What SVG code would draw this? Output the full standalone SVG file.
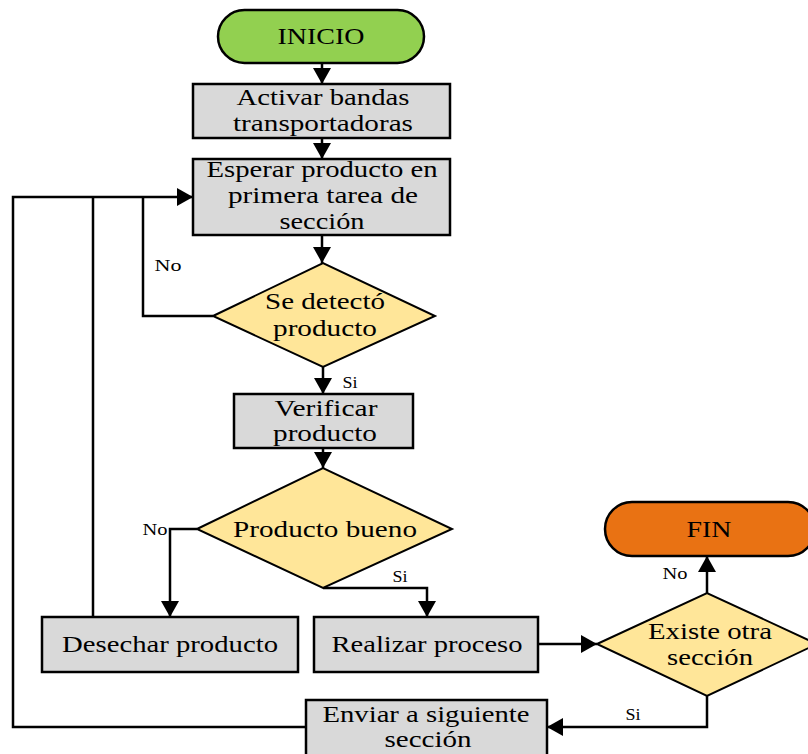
<svg xmlns="http://www.w3.org/2000/svg" width="808" height="754" viewBox="0 0 808 754">
<style>
.box{fill:#D9D9D9;stroke:#000;stroke-width:2.5}
.dec{fill:#FFE699;stroke:#000;stroke-width:2}
.t{font-family:"Liberation Serif","Times New Roman",serif;font-size:23px;fill:#000;text-anchor:middle}
.s{font-family:"Liberation Serif","Times New Roman",serif;font-size:16px;fill:#000;text-anchor:middle}
.c{fill:none;stroke:#000;stroke-width:2.5}
</style>
<defs>
<marker id="ah" markerUnits="userSpaceOnUse" markerWidth="18" markerHeight="20" refX="16" refY="9" orient="auto">
<path d="M0,0 L16,9 L0,18 z" fill="#000"/>
</marker>
</defs>
<g id="connectors">
<path class="c" d="M322,63 V84" marker-end="url(#ah)"/>
<path class="c" d="M322,138 V159" marker-end="url(#ah)"/>
<path class="c" d="M322,235 V263" marker-end="url(#ah)"/>
<path class="c" d="M213,316 H143 V197"/>
<path class="c" d="M323,367 V394" marker-end="url(#ah)"/>
<path class="c" d="M323,448 V468" marker-end="url(#ah)"/>
<path class="c" d="M197,529 H170 V617" marker-end="url(#ah)"/>
<path class="c" d="M323,588 H427 V617" marker-end="url(#ah)"/>
<path class="c" d="M93,617 V197"/>
<path class="c" d="M538,644 H597" marker-end="url(#ah)"/>
<path class="c" d="M707,593 V556" marker-end="url(#ah)"/>
<path class="c" d="M707,696 V727 H547" marker-end="url(#ah)"/>
<path class="c" d="M306,727 H13 V197 H193" marker-end="url(#ah)"/>
<text class="s" x="168" y="271" textLength="27" lengthAdjust="spacingAndGlyphs">No</text>
<text class="s" x="350" y="388" textLength="15" lengthAdjust="spacingAndGlyphs">Si</text>
<text class="s" x="155" y="535" textLength="25" lengthAdjust="spacingAndGlyphs">No</text>
<text class="s" x="400" y="582" textLength="15" lengthAdjust="spacingAndGlyphs">Si</text>
<text class="s" x="675" y="579" textLength="25" lengthAdjust="spacingAndGlyphs">No</text>
<text class="s" x="633" y="720" textLength="15" lengthAdjust="spacingAndGlyphs">Si</text>
</g>
<g id="inicio">
<rect x="218" y="10" width="206" height="53" rx="26.5" fill="#92D050" stroke="#000" stroke-width="2.5"/>
<text class="t" x="321" y="44" textLength="87" lengthAdjust="spacingAndGlyphs">INICIO</text>
</g>
<g id="activar">
<rect class="box" x="193" y="84" width="257" height="54"/>
<text class="t" x="323" y="105" textLength="173" lengthAdjust="spacingAndGlyphs">Activar bandas</text>
<text class="t" x="323" y="131" textLength="180" lengthAdjust="spacingAndGlyphs">transportadoras</text>
</g>
<g id="esperar">
<rect class="box" x="193" y="159" width="257" height="76"/>
<text class="t" x="322" y="177" textLength="231" lengthAdjust="spacingAndGlyphs">Esperar producto en</text>
<text class="t" x="323" y="203" textLength="190" lengthAdjust="spacingAndGlyphs">primera tarea de</text>
<text class="t" x="322" y="229" textLength="85" lengthAdjust="spacingAndGlyphs">sección</text>
</g>
<g id="detecto">
<polygon class="dec" points="213,316 323,263 435,316 323,367"/>
<text class="t" x="325" y="309" textLength="120" lengthAdjust="spacingAndGlyphs">Se detectó</text>
<text class="t" x="325" y="336" textLength="104" lengthAdjust="spacingAndGlyphs">producto</text>
</g>
<g id="verificar">
<rect class="box" x="234" y="394" width="179" height="54"/>
<text class="t" x="326" y="416" textLength="103" lengthAdjust="spacingAndGlyphs">Verificar</text>
<text class="t" x="325" y="441" textLength="104" lengthAdjust="spacingAndGlyphs">producto</text>
</g>
<g id="bueno">
<polygon class="dec" points="197,529 323,468 452,529 323,588"/>
<text class="t" x="325" y="537" textLength="184" lengthAdjust="spacingAndGlyphs">Producto bueno</text>
</g>
<g id="desechar">
<rect class="box" x="42" y="617" width="256" height="55"/>
<text class="t" x="170" y="652" textLength="216" lengthAdjust="spacingAndGlyphs">Desechar producto</text>
</g>
<g id="realizar">
<rect class="box" x="314" y="617" width="224" height="55"/>
<text class="t" x="427" y="652" textLength="191" lengthAdjust="spacingAndGlyphs">Realizar proceso</text>
</g>
<g id="existe">
<polygon class="dec" points="597,644 707,593 817,644 707,696"/>
<text class="t" x="710" y="639" textLength="124" lengthAdjust="spacingAndGlyphs">Existe otra</text>
<text class="t" x="710" y="665" textLength="86" lengthAdjust="spacingAndGlyphs">sección</text>
</g>
<g id="fin">
<rect x="605" y="502" width="210" height="54" rx="27" fill="#E97213" stroke="#000" stroke-width="2.5"/>
<text class="t" x="709" y="537" textLength="45" lengthAdjust="spacingAndGlyphs">FIN</text>
</g>
<g id="enviar">
<rect class="box" x="306" y="700" width="241" height="60"/>
<text class="t" x="426" y="722" textLength="207" lengthAdjust="spacingAndGlyphs">Enviar a siguiente</text>
<text class="t" x="428" y="747" textLength="87" lengthAdjust="spacingAndGlyphs">sección</text>
</g>
</svg>
